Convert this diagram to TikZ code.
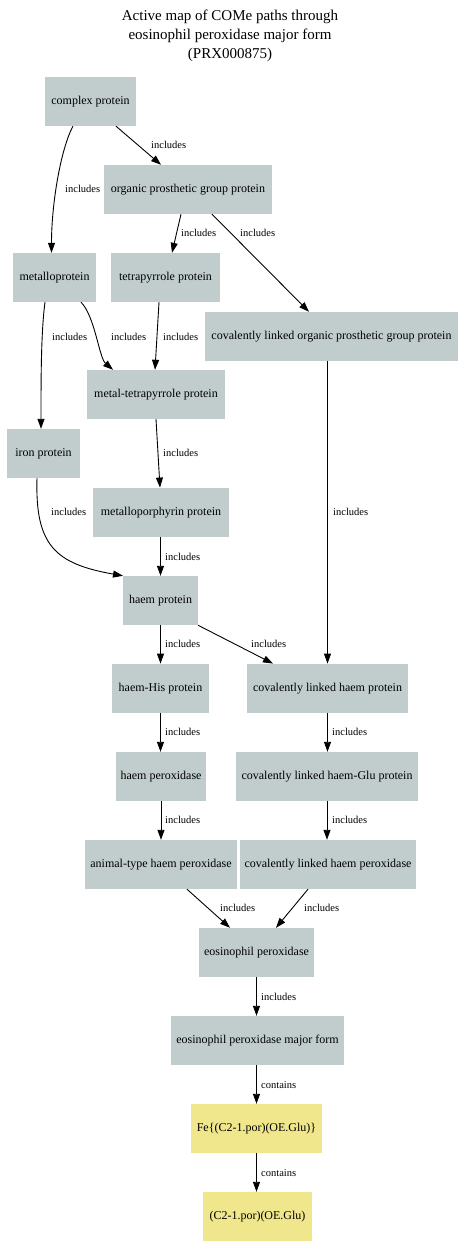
\documentclass[tikz,border=0pt]{standalone}
\usepackage{fontspec}
\setmainfont{Liberation Serif}
\usetikzlibrary{arrows.meta,calc}
\definecolor{boxgray}{HTML}{C1CDCD}
\definecolor{boxyellow}{HTML}{F0E68C}
\begin{document}
\begin{tikzpicture}[x=1pt,y=-1pt,
  termbox/.style={fill=boxgray,draw=none,inner sep=0pt,minimum height=49pt,font=\fontsize{12}{14}\selectfont,anchor=center},
  chembox/.style={termbox,fill=boxyellow},
  edgelbl/.style={font=\fontsize{10.5}{12}\selectfont,anchor=west,inner sep=0pt},
  link/.style={draw=black,line width=0.9pt,-{Triangle[length=10pt,width=7pt]}}]
\useasboundingbox (0,0) rectangle (461,1257);
\node[align=center,font=\fontsize{15}{19}\selectfont] (title) at (230,36) {Active map of COMe paths through\\ eosinophil peroxidase major form\\(PRX000875)};
% nodes
\node[termbox,minimum width=91pt] (cp) at (90.5,101.5) {complex protein};
\node[termbox,minimum width=168pt] (opg) at (188,189.5) {organic prosthetic group protein};
\node[termbox,minimum width=83pt] (mp) at (54.5,277.5) {metalloprotein};
\node[termbox,minimum width=109pt] (tp) at (165.5,277.5) {tetrapyrrole protein};
\node[termbox,minimum width=253pt] (clopg) at (331.5,336.5) {covalently linked organic prosthetic group protein};
\node[termbox,minimum width=138pt] (mtp) at (156,394.5) {metal-tetrapyrrole protein};
\node[termbox,minimum width=73pt] (ip) at (43.5,453.5) {iron protein};
\node[termbox,minimum width=136pt] (mpp) at (161,512.3) {metalloporphyrin protein};
\node[termbox,minimum width=75pt] (hp) at (160.5,600.5) {haem protein};
\node[termbox,minimum width=97pt] (hhp) at (160.5,688.3) {haem-His protein};
\node[termbox,minimum width=161pt] (clhp) at (327.5,688.3) {covalently linked haem protein};
\node[termbox,minimum width=90pt] (hpx) at (161,776.5) {haem peroxidase};
\node[termbox,minimum width=182pt] (clhg) at (327,776.5) {covalently linked haem-Glu protein};
\node[termbox,minimum width=152pt] (ath) at (161,864.5) {animal-type haem peroxidase};
\node[termbox,minimum width=176pt] (clhpx) at (328,864.5) {covalently linked haem peroxidase};
\node[termbox,minimum width=115pt] (ep) at (256.5,952.5) {eosinophil peroxidase};
\node[termbox,minimum width=173pt] (epm) at (257.5,1040.5) {eosinophil peroxidase major form};
\node[chembox,minimum width=131pt] (fe) at (256.5,1128.5) {Fe\{(C2-1.por)(OE.Glu)\}};
\node[chembox,minimum width=109pt] (c2) at (257.5,1216.5) {(C2-1.por)(OE.Glu)};
% edges
\draw[link] ($(cp.south)+(-17.5,0)$) .. controls +(-12,22) and +(0,-50) .. ($(mp.north)+(-3,0)$);
\draw[link] ($(cp.south)+(25.5,0)$) -- ($(opg.north)+(-27,0)$);
\draw[link] ($(opg.south)+(-7,0)$) -- ($(tp.north)+(6.5,0)$);
\draw[link] ($(opg.south)+(24,0)$) -- ($(clopg.north)+(-22.5,0)$);
\draw[link] ($(mp.south)+(-9.5,0)$) .. controls +(-4,30) and +(0,-50) .. ($(ip.north)+(-2.5,0)$);
\draw[link] ($(mp.south)+(26.5,0)$) .. controls +(14,14) and +(-14,-12) .. ($(mtp.north)+(-43,0)$);
\draw[link] ($(tp.south)+(-6.5,0)$) -- ($(mtp.north)+(-1,0)$);
\draw[link] (mtp.south) -- ($(mpp.north)+(-1,0)$);
\draw[link] ($(ip.south)+(-6.5,0)$) .. controls +(-2,67) and +(-68,-12) .. ($(hp.north)+(-37.5,0)$);
\draw[link] (mpp.south -| hp.north) -- (hp.north);
\draw[link] (hp.south) -- (hhp.north);
\draw[link] ($(hp.south)+(37.5,0)$) -- ($(clhp.north)+(-54.5,0)$);
\draw[link] (clopg.south -| clhp.north) -- (clhp.north);
\draw[link] (hhp.south) -- (hhp.south |- hpx.north);
\draw[link] (clhp.south) -- (clhp.south |- clhg.north);
\draw[link] (hpx.south) -- (ath.north);
\draw[link] (clhg.south) -- (clhg.south |- clhpx.north);
\draw[link] ($(ath.south)+(26,0)$) -- ($(ep.north)+(-26.5,0)$);
\draw[link] ($(clhpx.south)+(-20,0)$) -- ($(ep.north)+(19.5,0)$);
\draw[link] (ep.south) -- (ep.south |- epm.north);
\draw[link] (epm.south -| fe.north) -- (fe.north);
\draw[link] (fe.south) -- (fe.south |- c2.north);
% edge labels
\node[edgelbl] (l1) at (65,189) {includes};
\node[edgelbl] (l2) at (151,145) {includes};
\node[edgelbl] (l3) at (181,233) {includes};
\node[edgelbl] (l4) at (240,233) {includes};
\node[edgelbl] (l5) at (52,337) {includes};
\node[edgelbl] (l6) at (111,337) {includes};
\node[edgelbl] (l7) at (163,337) {includes};
\node[edgelbl] (l8) at (163,453) {includes};
\node[edgelbl] (l9) at (51,512) {includes};
\node[edgelbl] (l10) at (165,557) {includes};
\node[edgelbl] (l11) at (165,644) {includes};
\node[edgelbl] (l12) at (251,644) {includes};
\node[edgelbl] (l13) at (333,512) {includes};
\node[edgelbl] (l14) at (165,732) {includes};
\node[edgelbl] (l15) at (332,732) {includes};
\node[edgelbl] (l16) at (165,820) {includes};
\node[edgelbl] (l17) at (332,820) {includes};
\node[edgelbl] (l18) at (220,908) {includes};
\node[edgelbl] (l19) at (304,908) {includes};
\node[edgelbl] (l20) at (261,997) {includes};
\node[edgelbl] (l21) at (261,1085) {contains};
\node[edgelbl] (l22) at (261,1173) {contains};
\end{tikzpicture}
\end{document}
